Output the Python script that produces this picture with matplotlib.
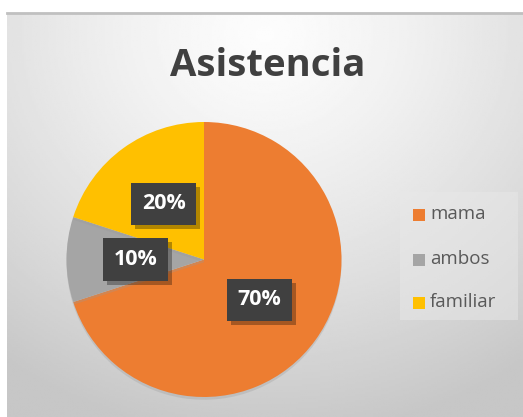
import matplotlib.pyplot as plt
import matplotlib.patheffects as pe
import numpy as np

# data
labels = ['mama', 'ambos', 'familiar']
values = [70, 10, 20]
colors = ['#ED7D31', '#A5A5A5', '#FFC000']
title = 'Asistencia'

W, H = 523, 417
fig = plt.figure(figsize=(W / 100, H / 100), dpi=100)
fig.patch.set_facecolor('white')

# chart area background (radial-ish gray gradient)
x0 = 7 / W
bg = fig.add_axes([x0, 0.0, 1 - x0, (H - 13) / H])
yy, xx = np.mgrid[0:1:200j, 0:1:260j]
d = np.sqrt(((xx - 0.5) * 1.1) ** 2 + ((yy - 0.05) * 0.95) ** 2)
shade = 0.99 - 0.21 * np.clip(d / 0.95, 0, 1) ** 1.3
bg.imshow(shade, cmap='gray', vmin=0, vmax=1, aspect='auto',
          extent=[0, 1, 0, 1], origin='upper')
bg.set_xlim(0, 1)
bg.set_ylim(0, 1)
bg.axis('off')
bg.plot([0, 1], [1, 1], color='#c0c0c0', lw=2, transform=bg.transAxes, clip_on=False)

# title
fig.text(268 / W, 1 - 66 / H, title, ha='center', va='center',
         fontsize=27.5, fontweight='bold', color='#404040', family='Open Sans')

# pie
cx, cy, r = 204, 259.5, 137.5
ax = fig.add_axes([(cx - r) / W, (H - cy - r) / H, 2 * r / W, 2 * r / H])
wedges, _, autotexts = ax.pie(values, colors=colors, startangle=90, counterclock=False,
                              radius=1, autopct='%1.0f%%', pctdistance=0.5,
                              wedgeprops=dict(linewidth=0))
for w in wedges:
    w.set_path_effects([pe.SimplePatchShadow(offset=(0, -2), shadow_rgbFace='#999999', alpha=0.3),
                        pe.Normal()])
for t in autotexts:
    t.set_color('white')
    t.set_fontweight('bold')
    t.set_fontsize(15.5)
    t.set_family('Open Sans')
    t.set_bbox(dict(boxstyle='square,pad=0.5', facecolor='#404040', edgecolor='none'))
    t.get_bbox_patch().set_path_effects([
        pe.SimplePatchShadow(offset=(3, -3), shadow_rgbFace='black', alpha=0.3),
        pe.Normal()])
ax.set_xlim(-1, 1)
ax.set_ylim(-1, 1)
ax.set_aspect('equal')
ax.axis('off')

# legend
lbg = plt.Rectangle((400 / W, 1 - 320 / H), 118 / W, 128 / H, transform=fig.transFigure,
                    facecolor='#e8e8e8', edgecolor='none', alpha=0.5)
fig.patches.append(lbg)
leg_y = [215, 260, 303]
for lab, col, ly in zip(labels, colors, leg_y):
    fig.patches.append(plt.Rectangle((413 / W, 1 - (ly + 6) / H), 12 / W, 12 / H,
                                     transform=fig.transFigure, facecolor=col, edgecolor='none'))
    fig.text(430 / W, 1 - (ly - 1) / H, lab, ha='left', va='center', fontsize=13.5,
             color='#595959', family='Open Sans')

fig.savefig('out.png', dpi=100)
